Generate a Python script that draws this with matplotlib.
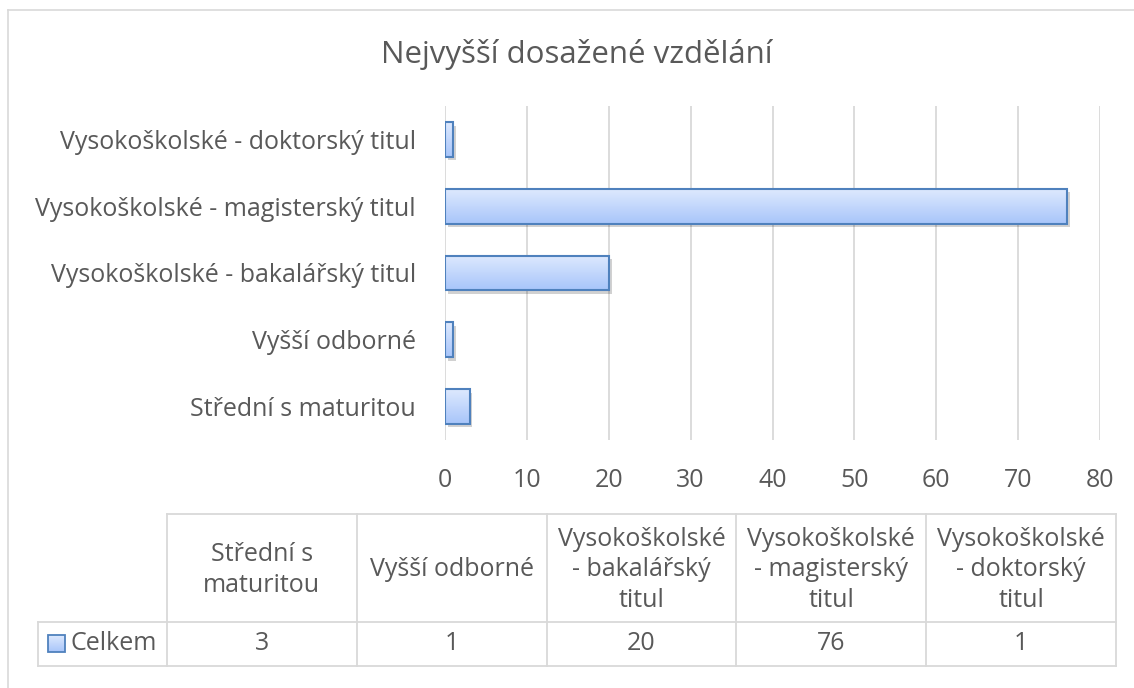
import numpy as np
import matplotlib
matplotlib.use('Agg')
import matplotlib.pyplot as plt
from matplotlib.patches import Rectangle
from matplotlib import patheffects as pe
from matplotlib.colors import LinearSegmentedColormap

plt.rcParams['font.family'] = ['Open Sans', 'DejaVu Sans']

# data
categories = ['Střední s maturitou', 'Vyšší odborné',
              'Vysokoškolské - bakalářský titul',
              'Vysokoškolské - magisterský titul',
              'Vysokoškolské - doktorský titul']
table_headers = ['Střední s\nmaturitou', 'Vyšší odborné',
                 'Vysokoškolské\n- bakalářský\ntitul',
                 'Vysokoškolské\n- magisterský\ntitul',
                 'Vysokoškolské\n- doktorský\ntitul']
values = [3, 1, 20, 76, 1]
series_name = 'Celkem'
x_ticks = [0, 10, 20, 30, 40, 50, 60, 70, 80]
title = 'Nejvyšší dosažené vzdělání'

txt = '#595959'
line_col = '#d9d9d9'
edge = '#4f81bd'
fs = 18
grad_cmap = LinearSegmentedColormap.from_list('bar', ['#dde9fe', '#a8c5fa'])
grad = np.linspace(0, 1, 64).reshape(-1, 1)

W, H = 1134, 688
fig = plt.figure(figsize=(W / 100, H / 100), dpi=100)

# pixel canvas for frame + data table
canvas = fig.add_axes([0, 0, 1, 1])
canvas.axis('off')
canvas.plot([8, 8], [10, H], color=line_col, lw=1.2)
canvas.plot([8, W], [10, 10], color=line_col, lw=1.2)

col_edges = np.linspace(167, 1116, len(categories) + 1)
top, mid, bot, leg_left = 514, 622, 666, 38
tl = dict(color=line_col, lw=1.3)
canvas.plot([col_edges[0], col_edges[-1]], [top, top], **tl)
canvas.plot([leg_left, col_edges[-1]], [mid, mid], **tl)
canvas.plot([leg_left, col_edges[-1]], [bot, bot], **tl)
canvas.plot([leg_left, leg_left], [mid, bot], **tl)
for e in col_edges:
    canvas.plot([e, e], [top, bot], **tl)

for i, (hdr, v) in enumerate(zip(table_headers, values)):
    cx = (col_edges[i] + col_edges[i + 1]) / 2
    canvas.text(cx, (top + mid) / 2 + 2, hdr, ha='center', va='center',
                fontsize=fs, color=txt, linespacing=1.3)
    canvas.text(cx, (mid + bot) / 2, str(v), ha='center', va='center',
                fontsize=fs, color=txt)

# legend key in the table
key = Rectangle((48, 635), 17, 17, facecolor='none', edgecolor=edge, lw=1.3, zorder=3)
canvas.add_patch(key)
kim = canvas.imshow(grad, extent=(48, 65, 652, 635), origin='upper',
                    cmap=grad_cmap, aspect='auto', zorder=2)
kim.set_clip_path(key)
canvas.text(71, (mid + bot) / 2, series_name, ha='left', va='center',
            fontsize=fs, color=txt)
canvas.set_xlim(0, W)
canvas.set_ylim(H, 0)

fig.text(577 / W, 1 - 55 / H, title, ha='center', va='center',
         fontsize=22.5, color=txt)

# bar chart
ax = fig.add_axes([445 / W, 1 - 440 / H, 655 / W, 334 / H])
y = np.arange(len(categories))
bars = ax.barh(y, values, height=0.52, color='#c3d7fb', lw=0, zorder=3,
               path_effects=[pe.SimplePatchShadow(offset=(2, -2.5), shadow_rgbFace='k', alpha=0.18),
                             pe.Normal()])
for b in bars:
    im = ax.imshow(grad, extent=(b.get_x(), b.get_x() + b.get_width(),
                                 b.get_y(), b.get_y() + b.get_height()),
                   origin='upper', cmap=grad_cmap, aspect='auto', zorder=3.5)
    im.set_clip_path(b)
ax.barh(y, values, height=0.52, fill=False, edgecolor=edge, lw=1.5, zorder=4)

ax.set_xlim(0, 80)
ax.set_ylim(-0.5, len(categories) - 0.5)
ax.set_xticks(x_ticks)
ax.set_yticks(y, categories)
ax.tick_params(axis='both', length=0, labelsize=fs, colors=txt)
ax.tick_params(axis='x', pad=20)
ax.tick_params(axis='y', pad=21)
ax.grid(axis='x', color=line_col, lw=1.3, zorder=0)
ax.set_axisbelow(True)
for s in ax.spines.values():
    s.set_visible(False)

fig.savefig('out.png', dpi=100)
